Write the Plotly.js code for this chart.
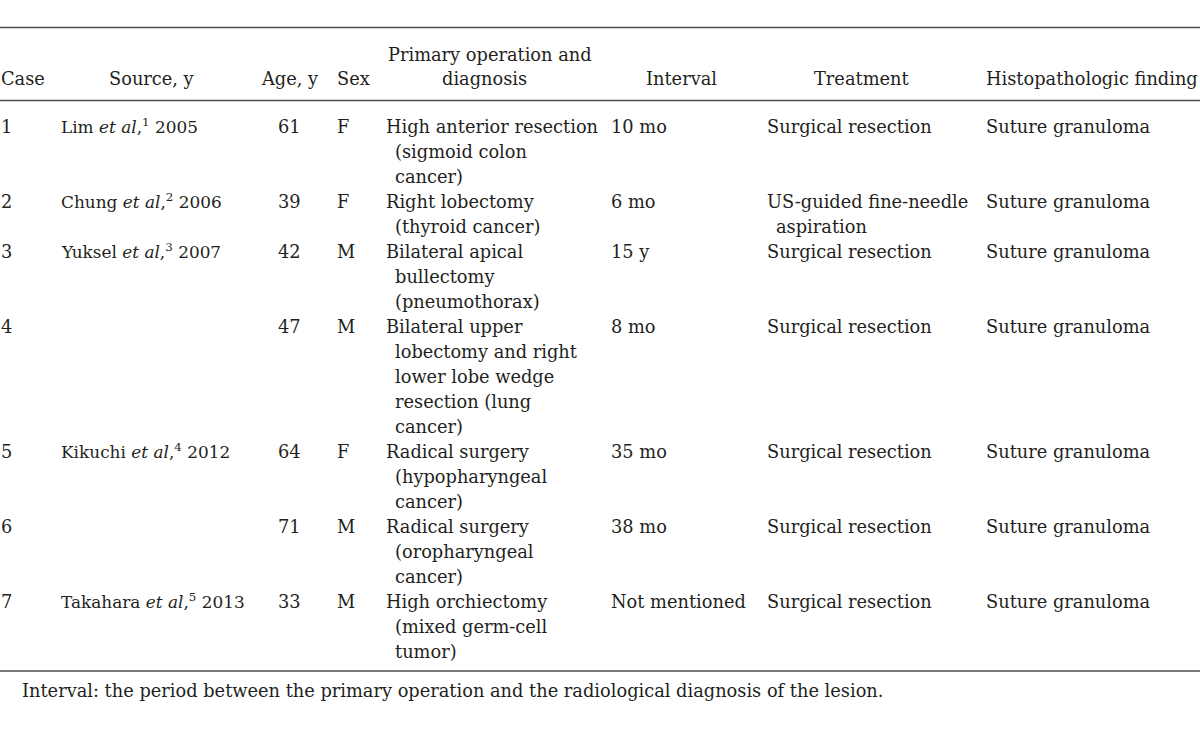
<!DOCTYPE html>
<html>
<head>
<meta charset="utf-8">
<script src="https://cdn.plot.ly/plotly-3.0.1.min.js"></script>
<style>html,body{margin:0;padding:0;background:#fff;}#chart{width:1200px;height:732px;}</style>
</head>
<body>
<div id="chart"></div>
<script>
// ---- data ----
const headers = ["Case", "Source, y", "Age, y", "Sex", "Primary operation and|diagnosis", "Interval", "Treatment", "Histopathologic finding"];
const cases = ["1", "2", "3", "4", "5", "6", "7"];
const authors = ["Lim", "Chung", "Yuksel", "", "Kikuchi", "", "Takahara"];
const refNums = ["1", "2", "3", "", "4", "", "5"];
const years = ["2005", "2006", "2007", "", "2012", "", "2013"];
const ages = ["61", "39", "42", "47", "64", "71", "33"];
const sexes = ["F", "F", "M", "M", "F", "M", "M"];
const primaryOps = [
  ["High anterior resection", "(sigmoid colon", "cancer)"],
  ["Right lobectomy", "(thyroid cancer)"],
  ["Bilateral apical", "bullectomy", "(pneumothorax)"],
  ["Bilateral upper", "lobectomy and right", "lower lobe wedge", "resection (lung", "cancer)"],
  ["Radical surgery", "(hypopharyngeal", "cancer)"],
  ["Radical surgery", "(oropharyngeal", "cancer)"],
  ["High orchiectomy", "(mixed germ-cell", "tumor)"]
];
const intervals = ["10 mo", "6 mo", "15 y", "8 mo", "35 mo", "38 mo", "Not mentioned"];
const treatments = [
  ["Surgical resection"],
  ["US-guided fine-needle", "aspiration"],
  ["Surgical resection"],
  ["Surgical resection"],
  ["Surgical resection"],
  ["Surgical resection"],
  ["Surgical resection"]
];
const findings = ["Suture granuloma", "Suture granuloma", "Suture granuloma", "Suture granuloma", "Suture granuloma", "Suture granuloma", "Suture granuloma"];
const footnote = "Interval: the period between the primary operation and the radiological diagnosis of the lesion.";

// ---- layout config ----
const FAMILY = "'DejaVu Serif', 'Liberation Serif', serif";
const FONT = {family: FAMILY, size: 17.8, color: "#231f20"};
const SOURCE_FONT = {family: FAMILY, size: 16.9, color: "#231f20"};
const LINE_H = 25;
const FIRST_ROW_Y = 126;
const HEADER_Y = [54, 78];
const RULES_Y = [27.5, 100.5, 671];
const FOOT_Y = 690;
const FOOT_X = 21;
const INDENT = 9;
// column: x, anchor for body; header x, anchor
const cols = [
  {x: 0, a: "left", hx: 0, ha: "left"},
  {x: 60, a: "left", hx: 151, ha: "center", font: SOURCE_FONT},
  {x: 289, a: "center", hx: 289, ha: "center"},
  {x: 336, a: "left", hx: 336, ha: "left"},
  {x: 385, a: "left", hx: [490, 484], ha: "center"},
  {x: 610, a: "left", hx: 681, ha: "center"},
  {x: 766, a: "left", hx: 861, ha: "center"},
  {x: 985, a: "left", hx: 985, ha: "left"}
];

const annotations = [];
function addText(text, x, y, anchor, font) {
  annotations.push({
    xref: "x", yref: "y", x: x, y: y, text: text,
    xanchor: anchor, yanchor: "middle", showarrow: false, borderpad: 0,
    font: font || FONT, align: anchor === "center" ? "center" : "left"
  });
}

// headers
headers.forEach((h, i) => {
  const parts = h.split("|");
  const c = cols[i];
  if (parts.length === 2) {
    addText(parts[0], c.hx[0], HEADER_Y[0], c.ha);
    addText(parts[1], c.hx[1], HEADER_Y[1], c.ha);
  } else {
    addText(parts[0], c.hx, HEADER_Y[1], c.ha);
  }
});

// body rows
let y = FIRST_ROW_Y;
cases.forEach((c, r) => {
  const source = authors[r] ? authors[r] + " <i>et al</i>,<sup>" + refNums[r] + "</sup> " + years[r] : "";
  const cells = [[c], [source], [ages[r]], [sexes[r]], primaryOps[r], [intervals[r]], treatments[r], [findings[r]]];
  let nLines = 1;
  cells.forEach((lines, ci) => {
    nLines = Math.max(nLines, lines.length);
    lines.forEach((t, li) => {
      if (!t) return;
      const col = cols[ci];
      const x = col.x + (li > 0 ? INDENT : 0);
      addText(t, x, y + li * LINE_H, col.a, col.font);
    });
  });
  y += nLines * LINE_H;
});

addText(footnote, FOOT_X, FOOT_Y, "left");

const shapes = RULES_Y.map(ry => ({
  type: "line", xref: "x", yref: "y", x0: 0, x1: 1200, y0: ry, y1: ry,
  line: {color: "#4d4d4d", width: 1.6}
}));

const layout = {
  width: 1200, height: 732,
  margin: {l: 0, r: 0, t: 0, b: 0},
  paper_bgcolor: "#ffffff", plot_bgcolor: "#ffffff",
  xaxis: {range: [0, 1200], visible: false, fixedrange: true},
  yaxis: {range: [732, 0], visible: false, fixedrange: true},
  showlegend: false,
  annotations: annotations,
  shapes: shapes
};

Plotly.newPlot("chart", [{x: [], y: [], type: "scatter", mode: "markers", hoverinfo: "skip"}], layout, {staticPlot: true, displayModeBar: false});
</script>
</body>
</html>
